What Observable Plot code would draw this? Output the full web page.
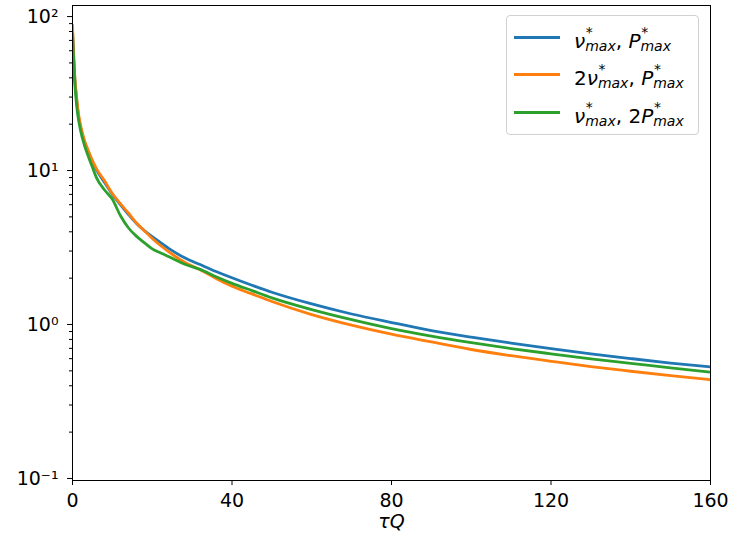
<!DOCTYPE html>
<html>
<head>
<meta charset="utf-8">
<script src="https://cdn.jsdelivr.net/npm/d3@7"></script>
<script src="https://cdn.jsdelivr.net/npm/@observablehq/plot@0.6"></script>
<style>
  html, body { margin: 0; padding: 0; background: white; }
  #wrap { position: relative; width: 732px; height: 539px; font-family: "DejaVu Sans", sans-serif; }
  #legend { position: absolute; left: 506px; top: 15px; width: 193px; height: 120px;
    border: 1px solid #d0d0d0; border-radius: 4px; background: rgba(255,255,255,0.8); box-sizing: border-box; }
  .row { position: absolute; left: 0; height: 30px; width: 100%; }
  .sw { position: absolute; left: 7px; width: 46px; height: 3px; top: 50%; margin-top: -1.5px; }
  .lab { position: absolute; left: 67px; top: 4px; font-size: 20px; line-height: 30px; white-space: nowrap; color: #000; }
  .ss { display: inline-block; position: relative; font-size: 0.7em; line-height: 1; vertical-align: -0.22em; font-style: italic; }
  .ss .sb { display: inline-block; line-height: 0.9; }
  .ss .sp { position: absolute; left: 0.05em; top: -0.95em; line-height: 0.9; }
</style>
</head>
<body>
<div id="wrap"></div>
<script>
// τQ sample points
const tauQ = [0, 0.5, 1, 1.5, 2, 3, 4, 5, 6, 8, 10, 12, 14, 16, 18, 20, 22, 25, 28, 32, 36, 40, 45, 50, 60, 70, 80, 90, 100, 110, 120, 130, 140, 150, 160];
// ν*max, P*max
const nuP = [82, 42, 29.5, 22.5, 19.2, 15.4, 13.2, 11.4, 10.1, 8.4, 7.0, 6.0, 5.2, 4.55, 4.08, 3.72, 3.42, 3.02, 2.72, 2.45, 2.21, 2.01, 1.8, 1.62, 1.36, 1.17, 1.03, 0.913, 0.827, 0.757, 0.696, 0.645, 0.601, 0.562, 0.53];
// 2ν*max, P*max
const twoNuP = [88, 44, 30.5, 23.5, 19.8, 15.7, 13.4, 11.6, 10.3, 8.6, 7.1, 6.1, 5.3, 4.58, 4.07, 3.62, 3.27, 2.86, 2.55, 2.27, 1.99, 1.77, 1.58, 1.41, 1.16, 0.99, 0.865, 0.77, 0.688, 0.627, 0.577, 0.533, 0.497, 0.465, 0.438];
// ν*max, 2P*max
const nuTwoP = [77, 40, 27, 21.5, 18.3, 14.6, 12.3, 10.5, 9.0, 7.5, 6.5, 5.1, 4.25, 3.75, 3.4, 3.1, 2.92, 2.69, 2.47, 2.28, 2.04, 1.85, 1.66, 1.49, 1.25, 1.075, 0.94, 0.84, 0.762, 0.698, 0.645, 0.598, 0.56, 0.522, 0.49];

const seriesNames = ["nuP", "twoNuP", "nuTwoP"];
const seriesColors = ["#1f77b4", "#ff7f0e", "#2ca02c"];
const xTicks = [0, 40, 80, 120, 160];
const yMajor = [0.1, 1, 10, 100];
const yMajorLabels = ["10⁻¹", "10⁰", "10¹", "10²"];
const yMinor = [];
for (const d of [0.1, 1, 10]) for (let k = 2; k <= 9; k++) yMinor.push(+(k * d).toPrecision(3));

const seriesValues = [nuP, twoNuP, nuTwoP];
const rows = [];
seriesNames.forEach((s, i) => tauQ.forEach((t, j) => rows.push({series: s, tau: t, value: seriesValues[i][j]})));

const chart = Plot.plot({
  width: 732,
  height: 539,
  marginLeft: 72,
  marginRight: 22,
  marginTop: 5,
  marginBottom: 59,
  style: {fontFamily: "DejaVu Sans", fontSize: "19px", color: "black", background: "white"},
  x: {domain: [0, 160]},
  y: {type: "log", domain: [0.097, 118]},
  color: {domain: seriesNames, range: seriesColors},
  marks: [
    Plot.axisX(xTicks, {tickSize: 5, tickPadding: 8, label: null, tickFormat: d => String(d)}),
    Plot.axisY(yMajor, {tickSize: 5, tickPadding: 9, label: null, tickFormat: d => yMajorLabels[yMajor.indexOf(d)]}),
    Plot.axisY(yMinor, {tickSize: 3, label: null, tickFormat: () => ""}),
    Plot.line(rows, {x: "tau", y: "value", z: "series", stroke: "series", strokeWidth: 2.8, curve: "monotone-x", clip: true}),
    Plot.frame({stroke: "black", strokeWidth: 1}),
    Plot.text(["τQ"], {text: d => d, frameAnchor: "bottom", dy: 47, fontStyle: "italic", fontSize: 19})
  ]
});

const wrap = document.getElementById("wrap");
wrap.appendChild(chart);

const sub = '<span class="ss"><span class="sp">*</span><span class="sb">max</span></span>';
const legendLabels = [
  '<i>ν</i>' + sub + ', <i>P</i>' + sub,
  '2<i>ν</i>' + sub + ', <i>P</i>' + sub,
  '<i>ν</i>' + sub + ', 2<i>P</i>' + sub
];
const legend = document.createElement("div");
legend.id = "legend";
const rowTops = [6, 43, 81];
legendLabels.forEach((lab, i) => {
  const r = document.createElement("div");
  r.className = "row";
  r.style.top = rowTops[i] + "px";
  r.innerHTML = '<div class="sw" style="background:' + seriesColors[i] + '"></div><div class="lab">' + lab + '</div>';
  legend.appendChild(r);
});
wrap.appendChild(legend);
</script>
</body>
</html>
